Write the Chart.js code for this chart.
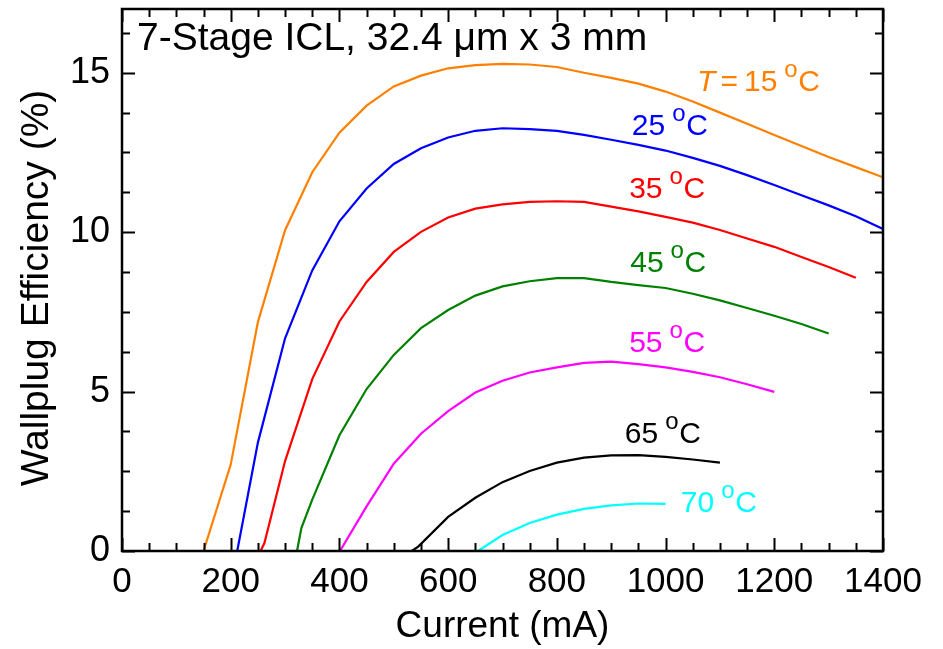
<!DOCTYPE html>
<html><head><meta charset="utf-8">
<script src="https://cdn.jsdelivr.net/npm/chart.js@4.4.1/dist/chart.umd.min.js"></script>
<style>html,body{margin:0;padding:0;background:#fff;}canvas{display:block;}</style>
</head><body>
<canvas id="c" width="943" height="649"></canvas>
<script>
const FONT = '"Liberation Sans", Arial, Helvetica, sans-serif';

// ---- text ----
const chartTitle = '7-Stage ICL, 32.4 \u03bcm x 3 mm';
const xAxisTitle = 'Current (mA)';
const yAxisTitle = 'Wallplug Efficiency (%)';

// ---- ticks ----
const xTickValues = [0, 200, 400, 600, 800, 1000, 1200, 1400];
const yTickValues = [0, 5, 10, 15];

// ---- data: current (mA) and wallplug efficiency (%) per temperature ----
const cur15 = [100,150,200,250,300,350,400,450,500,550,600,650,700,750,800,850,900,950,1000,1050,1100,1150,1200,1250,1300,1350,1400];
const wpe15 = [0,0,2.71,7.18,10.06,11.88,13.12,13.97,14.57,14.91,15.14,15.24,15.28,15.26,15.18,15.0,14.84,14.66,14.41,14.10,13.75,13.40,13.05,12.70,12.36,12.04,11.72];

const cur25 = [150,212,250,300,350,400,450,500,550,600,650,700,750,800,850,900,950,1000,1050,1100,1150,1200,1250,1300,1350,1400];
const wpe25 = [0,0,3.40,6.67,8.80,10.34,11.37,12.14,12.63,12.97,13.18,13.26,13.23,13.18,13.05,12.90,12.74,12.56,12.33,12.08,11.79,11.48,11.16,10.84,10.50,10.10];

const cur35 = [200,255,262,300,350,400,450,500,550,600,650,700,750,800,850,900,950,1000,1050,1100,1150,1200,1250,1300,1350];
const wpe35 = [0,0,0.25,2.82,5.39,7.2,8.44,9.38,10.01,10.46,10.74,10.87,10.95,10.97,10.95,10.8,10.65,10.48,10.30,10.07,9.8,9.54,9.22,8.91,8.57];

const cur45 = [270,322,330,350,400,450,500,550,600,650,700,750,800,850,900,950,1000,1050,1100,1150,1200,1250,1300];
const wpe45 = [0,0,0.72,1.61,3.63,5.08,6.15,6.99,7.56,8.01,8.30,8.46,8.56,8.56,8.44,8.34,8.25,8.07,7.86,7.62,7.38,7.12,6.82];

const cur55 = [350,401,450,500,550,600,650,700,750,800,850,900,950,1000,1050,1100,1150,1200];
const wpe55 = [0,0,1.40,2.74,3.68,4.39,4.97,5.34,5.60,5.76,5.90,5.94,5.86,5.76,5.62,5.45,5.23,4.99];

const cur65 = [480,533,545,600,650,700,750,800,850,900,950,1000,1050,1100];
const wpe65 = [0,0,0.14,1.07,1.67,2.16,2.51,2.77,2.93,3.0,3.01,2.95,2.87,2.77];

const cur70 = [600,655,700,750,800,850,900,950,1000];
const wpe70 = [0,0,0.5,0.88,1.14,1.32,1.43,1.49,1.48];

// ---- curve labels (temperature text and anchor in data units) ----
const labelTemps = ['15', '25', '35', '45', '55', '65', '70'];
const labelAtX = [1058, 938, 933, 935, 933, 925, 1028];
const labelAtY = [14.43, 13.04, 11.06, 8.76, 6.24, 3.38, 1.21];
const seriesColors = ['#ff8000', '#0000ff', '#ff0000', '#008000', '#ff00ff', '#000000', '#00ffff'];

const seriesX = [cur15, cur25, cur35, cur45, cur55, cur65, cur70];
const seriesY = [wpe15, wpe25, wpe35, wpe45, wpe55, wpe65, wpe70];

const datasets = seriesX.map((xs, k) => ({
  label: labelTemps[k] + ' \u00b0C',
  data: xs.map((v, i) => ({x: v, y: seriesY[k][i]})),
  borderColor: seriesColors[k],
  backgroundColor: seriesColors[k],
  borderWidth: 2.2,
  pointRadius: 0,
  tension: 0,
  fill: false
}));

function drawDegLabel(ctx, px, py, num, color, withT) {
  ctx.fillStyle = color;
  ctx.textAlign = 'left';
  ctx.textBaseline = 'alphabetic';
  let cx = px;
  if (withT) {
    ctx.font = 'italic 30px ' + FONT;
    ctx.fillText('T', cx, py);
    cx += ctx.measureText('T').width + 5;
    ctx.font = '30px ' + FONT;
    ctx.fillText('=', cx, py);
    cx += ctx.measureText('=').width + 6;
  }
  ctx.font = '30px ' + FONT;
  ctx.fillText(num, cx, py);
  cx += ctx.measureText(num).width + 7;
  ctx.font = '24px ' + FONT;
  ctx.fillText('o', cx, py - 14);
  cx += 14;
  ctx.font = '30px ' + FONT;
  ctx.fillText('C', cx, py);
}

const decor = {
  id: 'decor',
  afterDatasetsDraw(chart) {
    const {ctx, chartArea: a, scales: {x, y}} = chart;
    ctx.save();
    ctx.strokeStyle = '#000';
    // inward ticks on all four sides
    ctx.lineWidth = 2;
    for (let v = 0; v <= 1400; v += 50) {
      const px = Math.round(x.getPixelForValue(v)) + 0.5;
      const len = (v % 200 === 0) ? 13 : 8;
      ctx.beginPath();
      ctx.moveTo(px, a.bottom); ctx.lineTo(px, a.bottom - len);
      ctx.moveTo(px, a.top); ctx.lineTo(px, a.top + len);
      ctx.stroke();
    }
    for (let v = 0; v <= 17; v += 1.25) {
      const py = Math.round(y.getPixelForValue(v)) + 0.5;
      const len = (v % 5 === 0) ? 13 : 8;
      ctx.beginPath();
      ctx.moveTo(a.left, py); ctx.lineTo(a.left + len, py);
      ctx.moveTo(a.right, py); ctx.lineTo(a.right - len, py);
      ctx.stroke();
    }
    // frame
    ctx.lineWidth = 2.5;
    ctx.strokeRect(a.left, a.top, a.right - a.left, a.bottom - a.top);
    // title inside plot
    ctx.fillStyle = '#000';
    ctx.font = '39px ' + FONT;
    ctx.textAlign = 'left';
    ctx.textBaseline = 'alphabetic';
    ctx.fillText(chartTitle, a.left + 15, a.top + 41);
    // y axis title
    ctx.save();
    ctx.translate(37, (a.top + a.bottom) / 2 + 8);
    ctx.rotate(-Math.PI / 2);
    ctx.font = '39px ' + FONT;
    ctx.textAlign = 'center';
    ctx.textBaseline = 'middle';
    ctx.fillText(yAxisTitle, 0, 0);
    ctx.restore();
    // curve labels
    labelTemps.forEach((t, k) => {
      drawDegLabel(ctx, x.getPixelForValue(labelAtX[k]), y.getPixelForValue(labelAtY[k]), t, seriesColors[k], k === 0);
    });
    ctx.restore();
  }
};

function noPad(s) { s.paddingTop = 0; s.paddingBottom = 0; s.paddingLeft = 0; s.paddingRight = 0; }

new Chart(document.getElementById('c'), {
  type: 'line',
  data: {datasets},
  plugins: [decor],
  options: {
    responsive: false,
    animation: false,
    devicePixelRatio: 1,
    layout: {padding: {top: 9, right: 60, left: 0, bottom: 0}},
    plugins: {legend: {display: false}, tooltip: {enabled: false}, title: {display: false}},
    scales: {
      x: {
        type: 'linear', min: 0, max: 1400,
        grid: {display: false, drawTicks: false},
        border: {display: false},
        afterBuildTicks: s => { s.ticks = xTickValues.map(v => ({value: v})); },
        afterFit: s => { s.height = 98; noPad(s); },
        ticks: {autoSkip: false, maxRotation: 0, minRotation: 0, padding: 10, color: '#000',
                font: {family: FONT, size: 35, lineHeight: 1.2}, callback: v => String(v)},
        title: {display: true, text: xAxisTitle, color: '#000',
                font: {family: FONT, size: 37, lineHeight: 1.2}, padding: {top: 0, bottom: 0}}
      },
      y: {
        type: 'linear', min: 0, max: 17,
        grid: {display: false, drawTicks: false},
        border: {display: false},
        afterBuildTicks: s => { s.ticks = yTickValues.map(v => ({value: v})); },
        afterFit: s => { s.width = 122; noPad(s); },
        ticks: {padding: 12, color: '#000', font: {family: FONT, size: 36, lineHeight: 0.4},
                callback: v => String(v)},
        title: {display: false, text: yAxisTitle}
      }
    }
  }
});
</script>
</body></html>
